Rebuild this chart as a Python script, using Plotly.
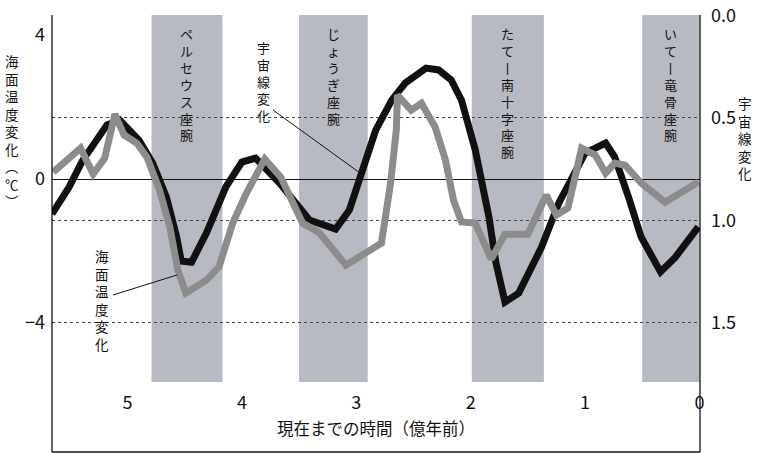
import plotly.graph_objects as go

# ---- data ----
arm_names = ["ペルセウス座腕", "じょうぎ座腕", "たて丨南十字座腕", "いて丨竜骨座腕"]
arm_start = [4.79, 3.50, 1.99, 0.50]
arm_end = [4.17, 2.90, 1.36, 0.0]

temp_age = [5.66, 5.51, 5.39, 5.18, 5.07, 4.90, 4.78, 4.66, 4.57, 4.53, 4.44, 4.31, 4.14,
            4.00, 3.88, 3.67, 3.41, 3.28, 3.18, 3.06, 2.92, 2.83, 2.69, 2.57, 2.39, 2.28,
            2.17, 2.08, 1.96, 1.84, 1.78, 1.70, 1.58, 1.38, 1.23, 1.12, 1.00, 0.82, 0.74,
            0.62, 0.51, 0.34, 0.21, 0.01]
temp_val = [-0.97, -0.22, 0.53, 1.50, 1.64, 1.08, 0.44, -0.50, -1.61, -2.28, -2.31, -1.50,
            -0.22, 0.47, 0.58, -0.11, -1.14, -1.28, -1.39, -0.86, 0.53, 1.36, 2.19, 2.67,
            3.08, 3.03, 2.75, 2.19, 0.81, -1.06, -2.31, -3.42, -3.17, -1.89, -0.67, -0.03,
            0.72, 1.00, 0.61, -0.50, -1.61, -2.58, -2.17, -1.33]

cosmic_age = [5.65, 5.41, 5.30, 5.20, 5.11, 5.03, 4.92, 4.83, 4.72, 4.63, 4.56, 4.49, 4.31,
              4.20, 4.08, 3.96, 3.80, 3.66, 3.47, 3.33, 3.09, 2.89, 2.78, 2.70, 2.65, 2.64,
              2.52, 2.43, 2.31, 2.22, 2.15, 2.08, 1.96, 1.82, 1.70, 1.50, 1.34, 1.25, 1.15,
              1.03, 0.91, 0.82, 0.74, 0.65, 0.51, 0.30, 0.16, 0.01]
cosmic_val = [0.765, 0.648, 0.774, 0.697, 0.482, 0.584, 0.623, 0.692, 0.852, 1.033, 1.242,
              1.354, 1.291, 1.227, 1.013, 0.867, 0.701, 0.789, 1.013, 1.057, 1.218, 1.154,
              1.111, 0.818, 0.560, 0.390, 0.463, 0.429, 0.546, 0.706, 0.901, 1.008, 1.013,
              1.188, 1.067, 1.067, 0.877, 0.974, 0.940, 0.648, 0.682, 0.770, 0.721, 0.731,
              0.818, 0.911, 0.862, 0.813]

x_ticks = [5, 4, 3, 2, 1, 0]
x_ticktext = ["5", "4", "3", "2", "1", "0"]
left_ticks = [4, 0, -4]
left_ticktext = ["4", "0", "−4"]
right_ticks = [0.0, 0.5, 1.0, 1.5]
right_ticktext = ["0.0", "0.5", "1.0", "1.5"]

x_title = "現在までの時間（億年前）"
left_title = "海面温度変化︵℃︶"
right_title = "宇宙線変化"
temp_label = "海面温度変化"
cosmic_label = "宇宙線変化"

FONT = "Noto Sans CJK JP"
W, H = 762, 454
L, R, T, B = 52, 62, 15, 64
PW, PH = W - L - R, H - T - B


def xp(px):
    return (px - L) / PW


def yp(py):
    return (H - B - py) / PH


def vert(s):
    return "<br>".join(list(s))


fig = go.Figure()
fig.add_trace(go.Scatter(x=temp_age, y=temp_val, mode="lines", yaxis="y",
                         line=dict(color="#111111", width=7), showlegend=False,
                         hoverinfo="skip"))
fig.add_trace(go.Scatter(x=cosmic_age, y=cosmic_val, mode="lines", yaxis="y2",
                         line=dict(color="#8c8c8c", width=7), showlegend=False,
                         hoverinfo="skip"))

shapes = []
annotations = []
for name, a0, a1 in zip(arm_names, arm_start, arm_end):
    shapes.append(dict(type="rect", xref="x", yref="paper", x0=a0, x1=a1,
                       y0=yp(382), y1=1, fillcolor="#b7bac2", line=dict(width=0),
                       layer="below"))
    annotations.append(dict(xref="x", yref="paper", x=(a0 + a1) / 2, y=yp(22),
                            yanchor="top", xanchor="center", showarrow=False,
                            text=vert(name), font=dict(family=FONT, size=13, color="#111")))

# frame lines
shapes.append(dict(type="line", xref="paper", yref="paper", x0=0, x1=0, y0=yp(452), y1=1,
                   line=dict(color="#111", width=1.3)))
shapes.append(dict(type="line", xref="paper", yref="paper", x0=1, x1=1, y0=yp(452), y1=1,
                   line=dict(color="#111", width=1.3)))
shapes.append(dict(type="line", xref="paper", yref="paper", x0=0, x1=1, y0=yp(452), y1=yp(452),
                   line=dict(color="#111", width=1.3)))
# leader lines
shapes.append(dict(type="line", xref="paper", yref="paper", x0=xp(273), y0=yp(110),
                   x1=xp(360), y1=yp(173), line=dict(color="#111", width=1)))
shapes.append(dict(type="line", xref="paper", yref="paper", x0=xp(113), y0=yp(295),
                   x1=xp(177), y1=yp(275), line=dict(color="#111", width=1)))


def vlabel(px, py, s, size):
    return dict(xref="paper", yref="paper", x=xp(px), y=yp(py), showarrow=False,
                xanchor="center", yanchor="middle", text=vert(s),
                font=dict(family=FONT, size=size, color="#111"))


annotations.append(vlabel(263, 81, cosmic_label, 13))
annotations.append(vlabel(102, 300, temp_label, 13.5))
annotations.append(vlabel(12, 131, left_title, 13.5))
annotations.append(vlabel(745, 138, right_title, 13.5))

fig.update_layout(
    width=W, height=H,
    margin=dict(l=L, r=R, t=T, b=B, autoexpand=False),
    paper_bgcolor="white", plot_bgcolor="white",
    font=dict(family=FONT, color="#111"),
    xaxis=dict(range=[5.66, -0.005], tickvals=x_ticks, ticktext=x_ticktext,
               showgrid=False, zeroline=False, showline=False, ticks="", automargin=False,
               tickfont=dict(size=18, family=FONT, color="#111"),
               title=dict(text=x_title, font=dict(size=16.5, family=FONT, color="#111"),
                          standoff=10)),
    yaxis=dict(range=[(179 - (H - B)) / 36.0, (179 - T) / 36.0],
               tickvals=left_ticks, ticktext=left_ticktext, automargin=False,
               showgrid=False, zeroline=True, zerolinecolor="#111", zerolinewidth=1.2,
               showline=False, ticks="", ticklabelstandoff=6,
               tickfont=dict(size=18, family=FONT, color="#111")),
    yaxis2=dict(range=[(H - B - T) / 205.3, -0.001], overlaying="y", side="right",
                tickvals=right_ticks, ticktext=right_ticktext, automargin=False,
                showgrid=True, gridcolor="#444", griddash="dot", gridwidth=1,
                zeroline=False, showline=False, ticks="", ticklabelstandoff=10,
                tickfont=dict(size=18, family=FONT, color="#111")),
    shapes=shapes,
    annotations=annotations,
)

fig.write_html("out.html", config={"displayModeBar": False},
               post_script="document.body.style.margin='0px';")
